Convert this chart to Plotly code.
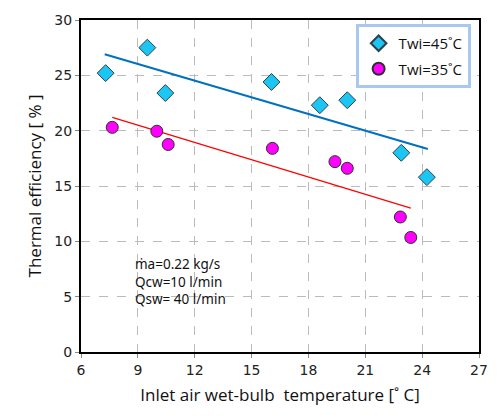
import plotly.graph_objects as go

# Twi = 45 °C
x45 = [7.3, 9.5, 10.45, 16.05, 18.6, 20.05, 22.9, 24.25]
y45 = [25.2, 27.5, 23.4, 24.4, 22.3, 22.75, 18.0, 15.8]
# Twi = 35 °C
x35 = [7.65, 10.0, 10.6, 16.1, 19.4, 20.05, 22.85, 23.4]
y35 = [20.3, 19.95, 18.75, 18.4, 17.2, 16.6, 12.2, 10.35]
# linear trend lines (endpoints)
trend45_x = [7.25, 24.3]
trend45_y = [26.9, 18.35]
trend35_x = [7.65, 23.4]
trend35_y = [21.2, 13.0]

xticks = [6, 9, 12, 15, 18, 21, 24, 27]
yticks = [0, 5, 10, 15, 20, 25, 30]

fig = go.Figure()
fig.add_trace(go.Scatter(x=trend45_x, y=trend45_y, mode="lines",
                         line=dict(color="#0070C0", width=2), showlegend=False, hoverinfo="skip"))
fig.add_trace(go.Scatter(x=trend35_x, y=trend35_y, mode="lines",
                         line=dict(color="#FF0000", width=1.2), showlegend=False, hoverinfo="skip"))
fig.add_trace(go.Scatter(x=x45, y=y45, mode="markers", name="Twi=45˚C", legendgroup="a",
                         marker=dict(symbol="diamond", size=13, color="#1CC6F2",
                                     line=dict(color="#2F3F4F", width=1))))
fig.add_trace(go.Scatter(x=x35, y=y35, mode="markers", name="Twi=35˚C", legendgroup="b",
                         marker=dict(symbol="circle", size=12, color="#FF00FF",
                                     line=dict(color="#2F2F2F", width=1))))

fig.add_annotation(x=8.75, y=6.4, xref="x", yref="y", xanchor="left", yanchor="middle",
                   text="ṁa=0.22 kg/s<br>Qcw=10 l/min<br>Qsw= 40 l/min",
                   showarrow=False, align="left",
                   font=dict(family="Noto Sans, Open Sans, sans-serif", size=13.5, color="#111111"))

grid = dict(showgrid=True, gridcolor="#BBBBBB", griddash="dash", gridwidth=1,
            showline=True, linecolor="#000000", linewidth=2, mirror=True,
            ticks="outside", ticklen=4, tickcolor="#888888",
            tickfont=dict(family="DejaVu Sans, Verdana, sans-serif", size=14, color="#222222"),
            zeroline=False)

fig.update_layout(
    width=500, height=419,
    margin=dict(l=81, r=13, t=16, b=67),
    paper_bgcolor="white", plot_bgcolor="white",
    xaxis=dict(range=[6, 27], tickvals=xticks,
               title=dict(text="Inlet air wet-bulb  temperature [˚ C]", standoff=12,
                          font=dict(family="Open Sans, Lato, sans-serif", size=17, color="#111111")),
               **grid),
    yaxis=dict(range=[0, 30], tickvals=yticks,
               title=dict(text="Thermal efficiency [ % ]", standoff=8,
                          font=dict(family="Open Sans, Lato, sans-serif", size=17, color="#111111")),
               **grid),
    legend=dict(x=0.69, y=0.988, xanchor="left", yanchor="top",
                bgcolor="white", bordercolor="#A9C8F0", borderwidth=3,
                font=dict(family="Open Sans, Lato, sans-serif", size=15, color="#111111"),
                itemsizing="constant", tracegroupgap=3, itemwidth=30),
)

fig.write_html("out.html")
